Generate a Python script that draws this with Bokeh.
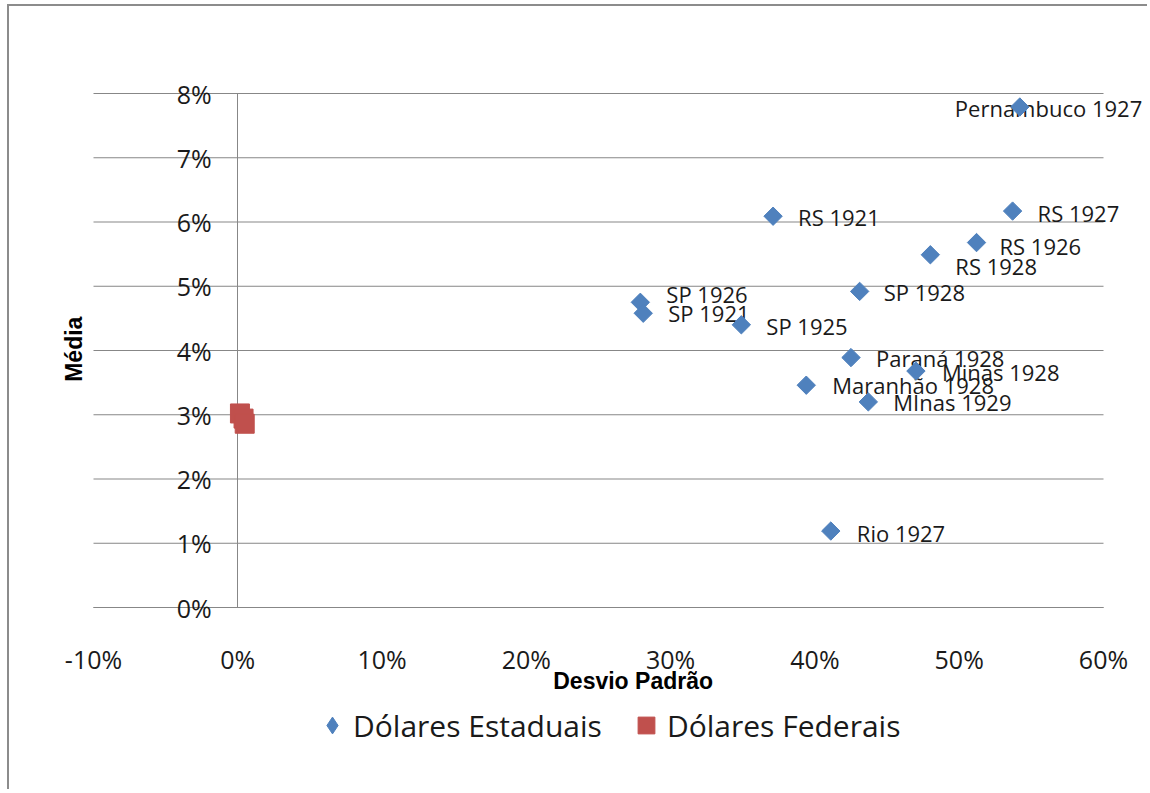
from bokeh.plotting import figure
from bokeh.models import (ColumnDataSource, LabelSet, Label, Legend, LegendItem, LinearAxis,
                          FixedTicker, NumeralTickFormatter, Range1d)
from bokeh.core.properties import value
from bokeh.embed import file_html
from bokeh.resources import INLINE
import math

# ---------------- data ----------------
estados = ["Pernambuco 1927", "RS 1927", "RS 1926", "RS 1928", "RS 1921", "SP 1928",
           "SP 1926", "SP 1921", "SP 1925", "Paraná 1928", "Minas 1928",
           "Maranhão 1928", "MInas 1929", "Rio 1927"]
desvio_est = [0.542, 0.537, 0.512, 0.480, 0.371, 0.431, 0.279, 0.281, 0.349, 0.425,
              0.470, 0.394, 0.437, 0.411]
media_est = [0.0779, 0.0617, 0.0568, 0.0549, 0.0609, 0.0492, 0.0475, 0.0458, 0.0440,
             0.0389, 0.0368, 0.0346, 0.0320, 0.0119]
desvio_fed = [0.0015, 0.0040, 0.0048]
media_fed = [0.0302, 0.0294, 0.0286]

x_ticks = [-0.1, 0.0, 0.1, 0.2, 0.3, 0.4, 0.5, 0.6]
y_ticks = [0.0, 0.01, 0.02, 0.03, 0.04, 0.05, 0.06, 0.07, 0.08]

# label placement (style, screen px)
lab_dx = [-65, 25, 23, 25, 25, 24, 26, 25, 25, 25, 26, 26, 25, 26]
lab_dy = [-1, -2, -3, -11, -1, -1, 8, 0, -1, 0, -1, 0, 0, -2]

BLUE = "#4F81BD"
RED = "#C0504D"
GRID = "#878787"
TXT = "#1a1a1a"

# ---------------- layout (page pixels) ----------------
CX0, CY0 = 9, 6            # canvas origin on the page (after margin + border)
W, H = 1140, 785
PX_L, PX_R = 93, 1103      # where the x axis starts / ends
PY_T, PY_B = 93, 607       # where the y axis top / bottom are

xs = (x_ticks[-1] - x_ticks[0]) / (PX_R - PX_L)
ys = (y_ticks[-1] - y_ticks[0]) / (PY_B - PY_T)
x_range = Range1d(x_ticks[0] - (PX_L - CX0) * xs, x_ticks[-1] + (CX0 + W - PX_R) * xs)
y_range = Range1d(y_ticks[0] - (CY0 + H - PY_B) * ys, y_ticks[-1] + (PY_T - CY0) * ys)

p = figure(width=W, height=H, x_range=x_range, y_range=y_range,
           x_axis_location=None, y_axis_location=None,
           output_backend="svg", toolbar_location=None, min_border=0,
           background_fill_color="white", border_fill_color="white")
p.outline_line_color = None
p.grid.visible = False
p.styles = {"margin-left": "7px", "margin-top": "4px",
            "border-left": "2px solid #8c8c8c", "border-top": "2px solid #8c8c8c"}

yt = FixedTicker(ticks=y_ticks)
xt = FixedTicker(ticks=x_ticks)

# horizontal gridlines, limited to the axis extent
grid_src = ColumnDataSource(dict(y=y_ticks))
p.segment(x0=x_ticks[0], x1=x_ticks[-1], y0="y", y1="y", source=grid_src,
          line_color=GRID, line_width=1, level="underlay")

# x axis at y = 0
xa = LinearAxis(ticker=xt, formatter=NumeralTickFormatter(format="0%"),
                fixed_location=0, bounds=(x_ticks[0], x_ticks[-1]))
xa.axis_line_color = GRID
xa.major_tick_out = 0
xa.major_tick_in = 0
xa.minor_tick_out = 0
xa.minor_tick_in = 0
xa.major_label_standoff = 34
xa.major_label_text_font = "Open Sans"
xa.major_label_text_font_size = "25px"
xa.major_label_text_color = TXT
p.add_layout(xa, "below")

# y axis crossing at x = 0
ya = LinearAxis(ticker=yt, formatter=NumeralTickFormatter(format="0%"),
                fixed_location=0, bounds=(y_ticks[0], y_ticks[-1]))
ya.axis_line_color = GRID
ya.major_tick_out = 0
ya.major_tick_in = 0
ya.minor_tick_out = 0
ya.minor_tick_in = 0
ya.major_label_standoff = 26
ya.major_label_text_font = "Open Sans"
ya.major_label_text_font_size = "25px"
ya.major_label_text_color = TXT
p.add_layout(ya, "left")

# axis titles
p.add_layout(Label(x=0.274, y=0, y_offset=-73, text="Desvio Padrão",
                   text_font="Liberation Sans", text_font_style="bold",
                   text_font_size="23px", text_color="black",
                   text_align="center", text_baseline="middle"))
p.add_layout(Label(x=x_ticks[0], y=0.0402, x_offset=-20, text="Média", angle=math.pi / 2,
                   text_font="Liberation Sans", text_font_style="bold",
                   text_font_size="23px", text_color="black",
                   text_align="center", text_baseline="middle"))

# data
src_e = ColumnDataSource(dict(x=desvio_est, y=media_est, name=estados,
                              dx=lab_dx, dy=lab_dy))
src_f = ColumnDataSource(dict(x=desvio_fed, y=media_fed))

r_e = p.scatter("x", "y", source=src_e, marker="square", size=13, angle=math.pi / 4,
                fill_color=BLUE, line_color=BLUE, level="overlay")
r_f = p.scatter("x", "y", source=src_f, marker="square", size=19,
                fill_color=RED, line_color=RED, level="overlay")

labels = LabelSet(x="x", y="y", text="name", source=src_e, x_offset="dx", y_offset="dy",
                  text_font=value("Open Sans"), text_font_size="22px", text_color=TXT,
                  text_baseline="middle", text_align="left")
p.add_layout(labels)

# legend swatch for the diamond series (hidden twin of the same data)
leg_e = p.scatter("x", "y", source=src_e, marker="diamond", fill_color=BLUE,
                  line_color=BLUE, visible=False)

legend = Legend(items=[LegendItem(label="Dólares Estaduais", renderers=[leg_e]),
                       LegendItem(label="Dólares Federais", renderers=[r_f])],
                orientation="horizontal", location=(302, 45))
legend.label_text_font = "Open Sans"
legend.label_text_font_size = "30px"
legend.label_text_color = TXT
legend.border_line_color = None
legend.background_fill_alpha = 0
legend.glyph_width = 42
legend.glyph_height = 42
legend.spacing = 23
legend.label_standoff = 0
legend.padding = 0
legend.margin = 0
p.add_layout(legend, "center")

open("out.html", "w").write(file_html(p, INLINE))
